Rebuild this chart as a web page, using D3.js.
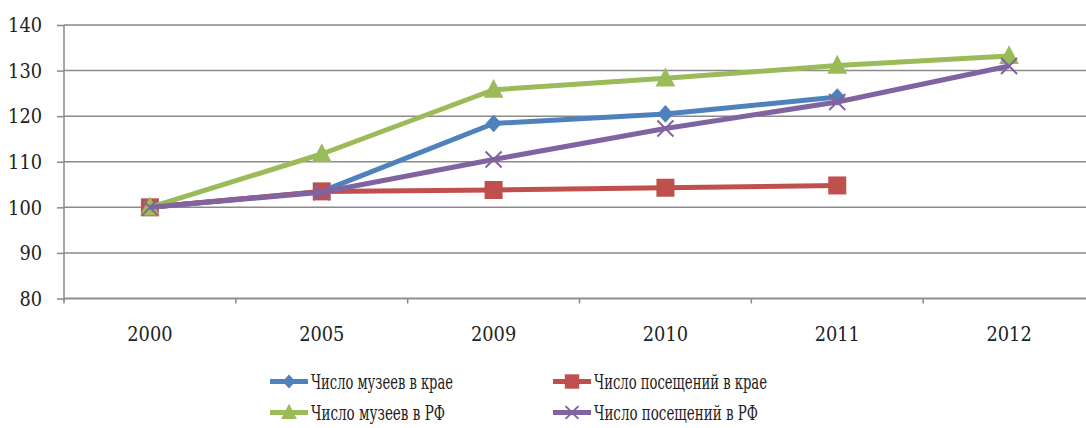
<!DOCTYPE html>
<html><head><meta charset="utf-8">
<script src="https://cdn.jsdelivr.net/npm/d3@7"></script>
<style>body{margin:0;background:#fff;overflow:hidden}svg{display:block}
svg text{font-family:"DejaVu Serif","Liberation Serif",serif;}</style>
</head><body>
<svg id="c" width="1086" height="428"></svg>
<script>
const categories = ["2000","2005","2009","2010","2011","2012"];
const museumsKrai = [100, 103.5, 118.4, 120.5, 124.2, null];
const visitsKrai = [100, 103.5, 103.8, 104.3, 104.8, null];
const museumsRF = [100, 111.7, 125.8, 128.3, 131.1, 133.2];
const visitsRF = [100, 103.3, 110.5, 117.3, 123.1, 131.0];
const seriesNames = ["Число музеев в крае","Число посещений в крае","Число музеев в РФ","Число посещений в РФ"];
const yTicks = [80, 90, 100, 110, 120, 130, 140];

const series = [
  {name: seriesNames[0], values: museumsKrai, color: "#4F81BD", marker: "diamond"},
  {name: seriesNames[1], values: visitsKrai, color: "#C0504D", marker: "square"},
  {name: seriesNames[2], values: museumsRF, color: "#9BBB59", marker: "triangle"},
  {name: seriesNames[3], values: visitsRF, color: "#8064A2", marker: "x"}
];

const svg = d3.select("#c");
const L = 64, R = 1095, T = 25, B = 298.5;
const x = d3.scaleBand().domain(categories).range([L, R]);
const y = d3.scaleLinear().domain([80, 140]).range([B, T]);
const grid = "#8a8a8a";
const digitW = 11.3;

svg.append("g").selectAll("line").data(yTicks).join("line")
  .attr("x1", L).attr("x2", R).attr("y1", d => y(d)).attr("y2", d => y(d))
  .attr("stroke", grid).attr("stroke-width", 1.5);

const yAxis = svg.append("g").attr("transform", `translate(${L},0)`)
  .call(d3.axisLeft(y).tickValues(yTicks).tickSize(7).tickPadding(15));
yAxis.attr("font-family", null).attr("font-size", null);
yAxis.select(".domain").attr("stroke", grid).attr("stroke-width", 1.5).attr("d", `M0,${T}V${B+3}`);
yAxis.selectAll(".tick line").attr("stroke", grid).attr("stroke-width", 1.5);
yAxis.selectAll("text").attr("font-size", 21).attr("fill", "#222")
  .attr("textLength", d => String(d).length * digitW).attr("lengthAdjust", "spacingAndGlyphs");

const xAxis = svg.append("g").attr("transform", `translate(0,${B})`)
  .call(d3.axisBottom(x).tickSize(0).tickPadding(28));
xAxis.attr("font-family", null).attr("font-size", null);
xAxis.select(".domain").attr("stroke", grid).attr("stroke-width", 1.5).attr("d", `M${L},0H${R}`);
xAxis.selectAll("text").attr("font-size", 21).attr("fill", "#222")
  .attr("textLength", d => String(d).length * digitW).attr("lengthAdjust", "spacingAndGlyphs");
const bounds = categories.map(c => x(c)).concat([R]);
svg.append("g").selectAll("line").data(bounds).join("line")
  .attr("x1", d => d).attr("x2", d => d).attr("y1", B).attr("y2", B + 5)
  .attr("stroke", grid).attr("stroke-width", 1.5);

const cx = c => x(c) + x.bandwidth() / 2;

function drawMarker(g, type, px, py, color, s) {
  if (type === "diamond") {
    g.append("path").attr("d", `M${px},${py-s*0.55}L${px+s*0.5},${py}L${px},${py+s*0.55}L${px-s*0.5},${py}Z`).attr("fill", color);
  } else if (type === "square") {
    g.append("rect").attr("x", px - s/2).attr("y", py - s/2).attr("width", s).attr("height", s).attr("fill", color);
  } else if (type === "triangle") {
    g.append("path").attr("d", `M${px},${py-s*0.6}L${px+s*0.55},${py+s*0.45}L${px-s*0.55},${py+s*0.45}Z`).attr("fill", color);
  } else {
    const h = s / 2;
    g.append("path").attr("d", `M${px-h},${py-h}L${px+h},${py+h}M${px-h},${py+h}L${px+h},${py-h}`)
      .attr("stroke", color).attr("stroke-width", 2).attr("fill", "none");
  }
}

const sizes = {diamond: 16, square: 18, triangle: 18, x: 16};
const line = d3.line().defined(d => d.v != null).x(d => cx(d.c)).y(d => y(d.v));

series.forEach(s => {
  const pts = categories.map((c, i) => ({c, v: s.values[i]}));
  const g = svg.append("g");
  g.append("path").datum(pts).attr("d", line).attr("fill", "none")
    .attr("stroke", s.color).attr("stroke-width", 5).attr("stroke-linejoin", "round");
  pts.filter(p => p.v != null).forEach(p => drawMarker(g, s.marker, cx(p.c), y(p.v), s.color, sizes[s.marker]));
});

const legPos = [[270, 381.5], [553, 381.5], [270, 412.5], [553, 412.5]];
const legLen = [142, 173, 134, 164];
series.forEach((s, i) => {
  const [lx, ly] = legPos[i];
  const g = svg.append("g");
  g.append("line").attr("x1", lx).attr("x2", lx + 38).attr("y1", ly).attr("y2", ly)
    .attr("stroke", s.color).attr("stroke-width", 5);
  drawMarker(g, s.marker, lx + 19, ly, s.color, sizes[s.marker] * 0.8);
  g.append("text").attr("x", lx + 41).attr("y", ly + 7).text(s.name)
    .attr("font-size", 21).attr("fill", "#222")
    .attr("textLength", legLen[i]).attr("lengthAdjust", "spacingAndGlyphs");
});
</script>
</body></html>
